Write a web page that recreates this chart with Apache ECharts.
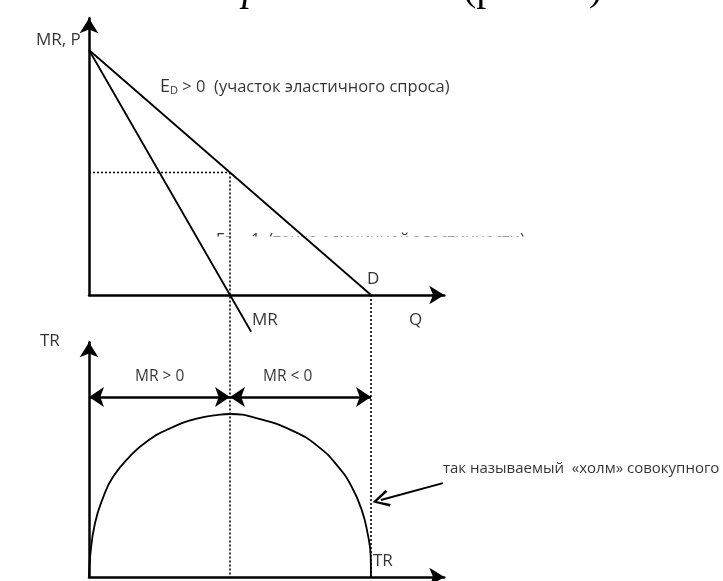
<!DOCTYPE html>
<html lang="ru">
<head>
<meta charset="UTF-8">
<title>MR, P и TR</title>
<style>
  html, body { margin: 0; padding: 0; background: #fff; }
  #chart { width: 723px; height: 581px; }
</style>
<script src="https://cdn.jsdelivr.net/npm/echarts@6/dist/echarts.min.js"></script>
</head>
<body>
<div id="chart"></div>
<script>
// upper panel: Q on x, MR / P on y
const demandLine = [[0, 10], [10, 0]];
const mrLine = [[0, 10], [5.75, -1.5]];
const priceGuide = [[0, 5], [5, 5]];
const midGuide = [[5, 5], [5, -11.5]];
const endGuide = [[10, 0], [10, -11.5]];

// lower panel: TR "hill"
const trQ = [0, 0.04, 0.21, 0.51, 0.86, 1.45, 2.05, 2.87, 3.82, 4.65, 5, 6.0, 7.19, 8.13, 8.84, 9.32, 9.67, 9.88, 9.99, 10];
const trValues = [0, 3.1, 8.2, 12.3, 15.4, 18.5, 20.8, 22.8, 24.3, 24.9, 25, 24.3, 22.5, 20.0, 16.9, 13.8, 10.3, 6.7, 3.1, 0];
const mrRanges = [[[0, 27.6], [5, 27.6]], [[5, 27.6], [10, 27.6]]];
const hillPointer = [[12.55, 14.4], [10.35, 11.8]];

// text positions (Q, value) and texts
const topTexts = [
  { name: "MR, P", value: [-1.88, 10.4] },
  { name: "D", value: [9.86, 0.65] },
  { name: "MR", value: [5.78, -1.02] },
  { name: "Q", value: [11.35, -1.02] }
];
const edText = { value: [2.52, 8.49], text: "{e|E}{s|D}{t| > 0  (участок эластичного спроса)}" };
const hiddenText = { name: "E\u1D05 = 1  (точка единичной эластичности)", value: [4.5, 2.22] };
const bottomTexts = [
  { name: "TR", value: [-1.74, 36.2] },
  { name: "TR", value: [10.07, 2.45] }
];
const smallTexts = [
  { name: "MR > 0", value: [1.63, 30.7] },
  { name: "MR < 0", value: [6.17, 30.7] }
];
const noteText = [{ name: "так называемый  «холм» совокупного", value: [12.55, 16.6] }];

const font = '"Open Sans", sans-serif';
const black = "#000";

function makeAxis(gridIndex, max) {
  return {
    type: "value",
    gridIndex: gridIndex,
    min: 0,
    max: max,
    axisLine: {
      show: true,
      onZero: false,
      symbol: ["none", "arrow"],
      symbolSize: [14, 15],
      lineStyle: { color: black, width: 2.5 }
    },
    axisTick: { show: false },
    axisLabel: { show: false },
    splitLine: { show: false }
  };
}

function segment(data, xi, dotted) {
  return {
    type: "line",
    xAxisIndex: xi,
    yAxisIndex: xi,
    data: data,
    symbol: "none",
    clip: false,
    silent: true,
    z: 2,
    lineStyle: { color: black, width: dotted ? 1.6 : 1.8, type: dotted ? [2, 2] : "solid" }
  };
}

function textSeries(data, xi, size, z) {
  return {
    type: "scatter",
    xAxisIndex: xi,
    yAxisIndex: xi,
    data: data,
    symbolSize: 0,
    clip: false,
    silent: true,
    z: z,
    label: {
      show: true,
      position: "inside",
      align: "left",
      verticalAlign: "middle",
      formatter: "{b}",
      color: black,
      fontFamily: font,
      fontSize: size
    }
  };
}

const chart = echarts.init(document.getElementById("chart"));
chart.setOption({
  backgroundColor: "#fff",
  animation: false,
  grid: [
    { left: 89, top: 18.15, width: 355.3, height: 276.85 },
    { left: 89, top: 342.3, width: 355.3, height: 234.7 }
  ],
  xAxis: [makeAxis(0, 12.6), makeAxis(1, 12.6)],
  yAxis: [makeAxis(0, 11.3), makeAxis(1, 36)],
  graphic: [
    // bottom of the cropped title line
    { type: "text", x: 242, y: 9, z: 0, style: { text: "р", font: "italic 40px 'Liberation Serif'", fill: black, verticalAlign: "bottom" } },
    { type: "text", x: 463, y: 9, z: 0, style: { text: "(р", font: "40px 'Liberation Serif'", fill: black, verticalAlign: "bottom" } },
    { type: "text", x: 589, y: 9, z: 0, style: { text: ")", font: "40px 'Liberation Serif'", fill: black, verticalAlign: "bottom" } },
    // white band that hides the lower part of the E = 1 caption
    { type: "rect", x: 205, y: 236.5, z: 1, shape: { width: 340, height: 26 }, style: { fill: "#fff" } }
  ],
  series: [
    segment(demandLine, 0, false),
    segment(mrLine, 0, false),
    segment(priceGuide, 0, true),
    segment(midGuide, 0, true),
    segment(endGuide, 0, true),
    {
      type: "line",
      xAxisIndex: 1,
      yAxisIndex: 1,
      data: trQ.map((q, i) => [q, trValues[i]]),
      symbol: "none",
      smooth: 0.5,
      clip: false,
      silent: true,
      z: 2,
      lineStyle: { color: black, width: 1.8 }
    },
    {
      type: "lines",
      coordinateSystem: "cartesian2d",
      xAxisIndex: 1,
      yAxisIndex: 1,
      data: mrRanges.map((c) => ({ coords: c })),
      symbol: ["arrow", "arrow"],
      symbolSize: 15,
      symbolOffset: [0, "50%"],
      silent: true,
      z: 3,
      lineStyle: { color: black, width: 2.5, opacity: 1 }
    },
    {
      type: "lines",
      coordinateSystem: "cartesian2d",
      xAxisIndex: 1,
      yAxisIndex: 1,
      data: [{ coords: hillPointer }],
      symbol: ["none", "path://M8,0 L16,14 L14,15.5 L8,4 L2,15.5 L0,14 Z"],
      symbolSize: 17,
      symbolOffset: [0, "50%"],
      silent: true,
      z: 3,
      lineStyle: { color: black, width: 2, opacity: 1 }
    },
    textSeries(topTexts, 0, 17, 3),
    textSeries(bottomTexts, 1, 17, 3),
    textSeries(smallTexts, 1, 15.5, 3),
    textSeries(noteText, 1, 15, 3),
    textSeries([hiddenText], 0, 16, 0),
    {
      type: "scatter",
      xAxisIndex: 0,
      yAxisIndex: 0,
      data: [{ value: edText.value }],
      symbolSize: 0,
      clip: false,
      silent: true,
      z: 3,
      label: {
        show: true,
        position: "inside",
        align: "left",
        verticalAlign: "middle",
        formatter: edText.text,
        color: black,
        fontFamily: font,
        rich: {
          e: { fontSize: 18, fontFamily: font, color: black },
          s: { fontSize: 11, fontFamily: font, color: black, verticalAlign: "bottom", lineHeight: 12 },
          t: { fontSize: 16.5, fontFamily: font, color: black }
        }
      }
    }
  ]
});
</script>
</body>
</html>
